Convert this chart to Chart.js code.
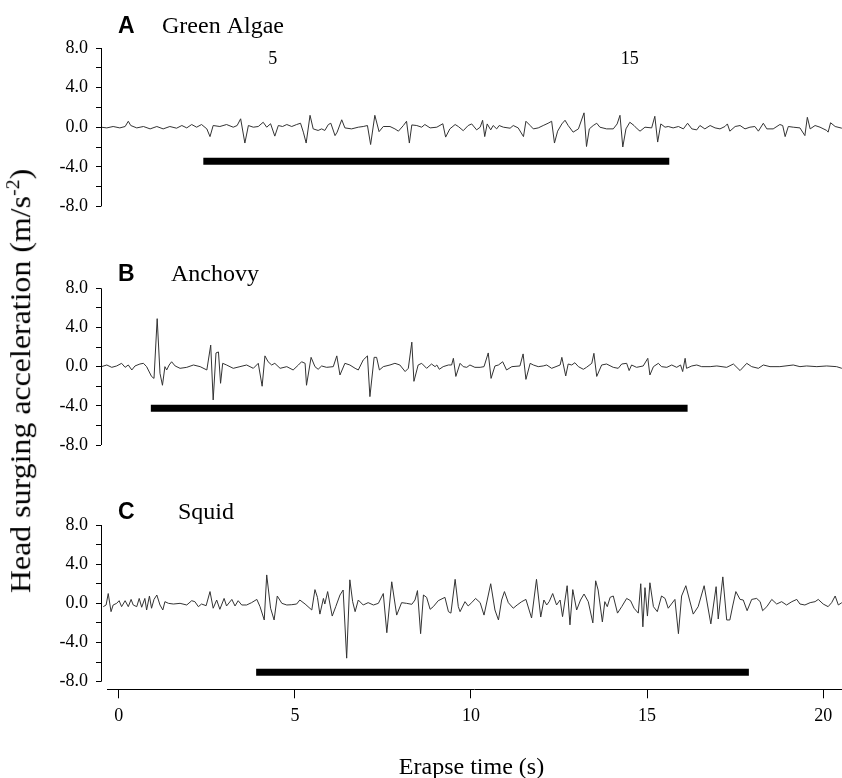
<!DOCTYPE html>
<html>
<head>
<meta charset="utf-8">
<title>Head surging acceleration</title>
<script src="https://cdn.jsdelivr.net/npm/chart.js@4.4.1/dist/chart.umd.min.js"></script>
<style>
  html, body { margin: 0; padding: 0; background: #fff; overflow: hidden; }
  #wrap { position: relative; width: 842px; height: 778px; overflow: hidden; }
  #wrap canvas { position: absolute; left: 0; }
  #ylabel {
    position: absolute; left: 20px; top: 381px;
    font-family: "Liberation Serif", "Times New Roman", serif; font-size: 29px;
    white-space: nowrap; color: #000;
    transform: translate(-50%, -50%) rotate(-90deg) scaleX(1.1);
  }
  #ylabel sup { font-size: 18px; }
</style>
</head>
<body>
<div id="wrap">
  <canvas id="chartA" width="842" height="230" style="top:0px"></canvas>
  <canvas id="chartB" width="842" height="230" style="top:240px"></canvas>
  <canvas id="chartC" width="842" height="330" style="top:460px"></canvas>
  <div id="ylabel">Head surging acceleration (m/s<sup>-2</sup>)</div>
</div>
<script>
// time (s) and head surging acceleration (m/s-2)
const timeA = [
  -0.50, -0.34, -0.16, 0.03, 0.18, 0.27, 0.34, 0.51, 0.70, 0.89,
  1.08, 1.26, 1.45, 1.64, 1.79, 1.93, 2.07, 2.21, 2.35, 2.50,
  2.59, 2.68, 2.87, 3.06, 3.25, 3.36, 3.46, 3.58, 3.68, 3.82,
  3.96, 4.10, 4.20, 4.31, 4.43, 4.53, 4.65, 4.77, 4.91, 5.05,
  5.16, 5.24, 5.32, 5.43, 5.52, 5.66, 5.76, 5.85, 5.95, 6.02,
  6.14, 6.20, 6.33, 6.42, 6.61, 6.80, 6.94, 7.06, 7.15, 7.27,
  7.39, 7.51, 7.70, 7.84, 7.94, 8.08, 8.17, 8.25, 8.32, 8.46,
  8.60, 8.69, 8.84, 9.03, 9.20, 9.28, 9.40, 9.55, 9.64, 9.78,
  9.92, 10.02, 10.16, 10.26, 10.33, 10.39, 10.46, 10.56, 10.63, 10.73,
  10.80, 10.92, 11.11, 11.20, 11.34, 11.49, 11.56, 11.68, 11.77, 11.91,
  12.05, 12.19, 12.29, 12.37, 12.46, 12.58, 12.67, 12.76, 12.90, 13.05,
  13.21, 13.28, 13.36, 13.47, 13.57, 13.66, 13.85, 14.04, 14.15, 14.23,
  14.31, 14.40, 14.51, 14.63, 14.72, 14.80, 14.94, 15.13, 15.22, 15.30,
  15.39, 15.51, 15.60, 15.74, 15.89, 16.03, 16.15, 16.27, 16.41, 16.50,
  16.64, 16.79, 16.93, 17.07, 17.21, 17.28, 17.35, 17.50, 17.64, 17.78,
  17.92, 18.06, 18.16, 18.30, 18.40, 18.58, 18.77, 18.85, 18.92, 19.01,
  19.15, 19.34, 19.48, 19.55, 19.63, 19.77, 19.91, 20.10, 20.14, 20.21,
  20.34, 20.53
];
const accelA = [
  0, -0.07, 0.07, -0.07, 0.07, 0.6, 0.17, -0.07, 0.07, -0.17,
  0.07, -0.17, 0.07, -0.1, 0.17, -0.07, 0.27, 0, 0.27, -0.17,
  -0.95, 0.17, 0.07, 0.27, 0, 0.17, 0.85, -1.6, 0.17, 0,
  0.07, 0.5, 0, 0.35, -0.9, 0.17, 0.07, 0.27, 0.07, 0.27,
  0.4, -0.5, -1.6, 1.2, -0.17, -0.33, -0.17, -0.33, 0.27, 0.4,
  -0.85, -0.5, 0.75, -0.07, -0.17, 0, 0.07, 0.17, -1.75, 1.2,
  -0.45, 0.07, 0.07, -0.17, -0.4, 0.17, 0.6, -1.6, 0.23, 0.17,
  0, 0.27, -0.07, 0, 0.35, -1.0, -0.17, 0.27, 0.07, -0.35,
  0.17, 0.33, -0.27, 0, 0.7, -0.95, 0.33, -0.27, 0.17, -0.17,
  0.17, 0, -0.1, 0.17, -0.07, -0.95, 0.6, 0.17, -0.17, -0.07,
  0.17, 0.4, 0.6, -1.6, -0.4, 0.33, 0.7, 0.17, -0.5, -0.17,
  1.45, -1.95, -0.17, 0.17, 0.4, 0, -0.17, -0.17, 0.33, 1.2,
  -2.0, -0.17, 0.5, 0.17, -0.17, -0.4, 0, -0.07, 1.1, -1.5,
  0.33, 0, 0.07, -0.07, 0.07, -0.17, 0.4, -0.17, -0.27, 0.17,
  -0.17, 0.17, -0.07, -0.17, 0.07, 0.33, -0.4, 0.07, 0.17, -0.17,
  0, 0.07, -0.4, 0.4, -0.17, -0.17, 0.27, 0.17, -0.95, 0.07,
  0, -0.07, -0.85, 1.0, -0.17, 0.17, 0, -0.33, -0.5, 0.45,
  0.07, -0.1
];

const timeB = [
  -0.49, -0.34, -0.20, -0.06, 0.08, 0.18, 0.27, 0.37, 0.46, 0.60,
  0.70, 0.79, 0.93, 1.00, 1.09, 1.17, 1.24, 1.31, 1.36, 1.43,
  1.50, 1.60, 1.74, 1.93, 2.12, 2.31, 2.50, 2.61, 2.68, 2.76,
  2.83, 2.89, 2.95, 3.06, 3.25, 3.44, 3.63, 3.82, 3.96, 4.07,
  4.15, 4.24, 4.34, 4.43, 4.58, 4.77, 4.95, 5.10, 5.19, 5.29,
  5.33, 5.46, 5.57, 5.66, 5.76, 5.90, 6.09, 6.19, 6.28, 6.42,
  6.56, 6.71, 6.80, 6.94, 7.06, 7.13, 7.25, 7.32, 7.40, 7.51,
  7.70, 7.84, 7.98, 8.13, 8.22, 8.32, 8.38, 8.50, 8.60, 8.74,
  8.88, 8.98, 9.03, 9.10, 9.21, 9.36, 9.45, 9.50, 9.57, 9.69,
  9.78, 9.88, 9.97, 10.11, 10.26, 10.37, 10.49, 10.57, 10.68, 10.78,
  10.90, 11.01, 11.16, 11.39, 11.48, 11.56, 11.68, 11.77, 11.91, 12.05,
  12.15, 12.29, 12.53, 12.58, 12.69, 12.76, 12.86, 12.95, 13.05, 13.19,
  13.28, 13.43, 13.49, 13.57, 13.71, 13.85, 14.04, 14.18, 14.28, 14.42,
  14.49, 14.56, 14.70, 14.89, 15.02, 15.08, 15.18, 15.32, 15.41, 15.56,
  15.70, 15.84, 15.95, 16.01, 16.08, 16.12, 16.27, 16.41, 16.55, 16.79,
  16.98, 17.26, 17.45, 17.64, 17.83, 17.97, 18.16, 18.30, 18.49, 18.77,
  19.15, 19.34, 19.53, 19.82, 20.10, 20.38, 20.53
];
const accelB = [
  0, 0.17, -0.07, 0.07, 0.34, -0.07, 0.17, -0.34, 0.07, 0.27,
  0.34, 0, -1.0, -1.2, 4.9, -0.68, -1.9, 0, -0.34, 0.17,
  0.5, 0.07, -0.17, -0.07, 0.17, 0, -0.34, 2.2, -3.4, 1.4,
  1.5, -1.7, 0.34, 0.17, -0.17, 0, 0.17, -0.17, 0.34, -2.0,
  1.1, 0.5, 0.17, 0.34, -0.17, 0, -0.34, 0.17, 0.5, 0.34,
  -1.9, 0.95, 0, -0.27, 0.07, -0.07, 0, 1.1, -0.85, 0.34,
  0.17, -0.17, -0.34, 0.68, 1.1, -3.06, 0.95, 0.95, -0.34, 0,
  0.17, 0.34, 0.17, -0.5, -0.17, 2.5, -1.5, 0.17, 0.34, -0.17,
  0.27, 0, 0.17, -0.27, 0, 0.17, 0.17, 0.85, -1.0, 0.34,
  0, -0.07, 0.17, -0.07, -0.07, 0, 1.4, -1.2, 0.07, 0.17,
  0.5, -0.34, 0, 0.07, 1.3, -1.3, 0.34, 0.17, 0, 0.07,
  0.17, -0.17, 0.17, 0.95, -0.95, 0.27, 0.17, 0.4, 0, -0.27,
  -0.07, 0.34, 1.36, -1.0, 0.17, 0.27, -0.07, -0.17, 0.27, 0.34,
  -0.4, 0.17, -0.07, 0.07, 0.85, -0.85, 0, 0.34, 0, -0.07,
  0.17, -0.07, 0.17, -0.5, 0.85, -0.17, 0.07, 0.17, 0, 0,
  0.07, -0.07, 0.27, -0.4, 0.34, 0, -0.17, 0.17, 0, 0,
  0.17, 0, 0.07, 0, 0.07, 0, -0.17
];

const timeC = [
  -0.44, -0.36, -0.30, -0.22, -0.16, -0.06, 0.01, 0.08, 0.18, 0.27,
  0.35, 0.41, 0.51, 0.58, 0.65, 0.74, 0.79, 0.87, 0.93, 1.00,
  1.08, 1.17, 1.25, 1.31, 1.41, 1.55, 1.74, 1.93, 2.07, 2.16,
  2.26, 2.35, 2.48, 2.59, 2.68, 2.78, 2.87, 2.99, 3.06, 3.21,
  3.30, 3.39, 3.49, 3.63, 3.77, 3.92, 4.01, 4.13, 4.20, 4.31,
  4.41, 4.50, 4.63, 4.77, 4.91, 5.05, 5.14, 5.29, 5.48, 5.57,
  5.64, 5.71, 5.81, 5.85, 5.93, 6.00, 6.06, 6.16, 6.28, 6.37,
  6.47, 6.56, 6.64, 6.71, 6.80, 6.94, 7.08, 7.23, 7.37, 7.51,
  7.61, 7.75, 7.89, 8.03, 8.17, 8.32, 8.41, 8.48, 8.57, 8.65,
  8.74, 8.84, 8.93, 9.07, 9.26, 9.36, 9.43, 9.55, 9.64, 9.69,
  9.83, 9.92, 10.02, 10.13, 10.26, 10.37, 10.56, 10.68, 10.78, 10.87,
  10.95, 11.06, 11.20, 11.31, 11.44, 11.56, 11.72, 11.86, 11.98, 12.07,
  12.15, 12.22, 12.32, 12.43, 12.53, 12.60, 12.73, 12.81, 12.89, 13.00,
  13.11, 13.21, 13.33, 13.46, 13.54, 13.61, 13.73, 13.80, 13.87, 13.95,
  14.04, 14.16, 14.28, 14.42, 14.53, 14.63, 14.75, 14.82, 14.88, 14.94,
  15.01, 15.08, 15.18, 15.29, 15.41, 15.51, 15.60, 15.79, 15.89, 15.98,
  16.10, 16.31, 16.45, 16.62, 16.81, 16.96, 17.02, 17.15, 17.26, 17.35,
  17.43, 17.52, 17.64, 17.73, 17.84, 17.97, 18.11, 18.21, 18.28, 18.40,
  18.54, 18.68, 18.82, 18.96, 19.11, 19.25, 19.34, 19.48, 19.63, 19.77,
  19.86, 20.00, 20.14, 20.24, 20.34, 20.43, 20.53
];
const accelC = [
  -0.34, -0.17, 1.0, -0.85, -0.17, 0, 0.27, -0.34, 0.27, -0.34,
  0.4, -0.17, -0.34, 0.5, -0.4, 0.5, -0.68, 0.75, -0.5, 0.4,
  0.85, -0.17, -0.68, 0.17, 0, -0.07, 0, -0.17, 0.27, 0.17,
  -0.34, -0.07, -0.24, 1.2, -0.5, 0.34, -0.61, 0.5, -0.27, 0.4,
  -0.27, 0.27, -0.17, -0.17, 0.07, 0.4, -0.34, -1.7, 2.9, -0.5,
  -1.7, 0.75, 0, -0.17, -0.14, -0.07, 0.34, -0.07, -0.68, 1.4,
  0.61, -1.1, 0.5, -0.07, 1.2, -0.17, -1.3, -0.34, 0.85, 1.36,
  -5.6, 2.4, 0.17, -0.85, 0.34, -0.17, 0.07, -0.17, 0, 1.0,
  -3.0, 2.2, -1.2, 0.07, 0, -0.1, 0.34, 1.3, -3.1, 0.85,
  0.61, -0.61, -0.34, 0.27, 0.61, -0.85, -1.0, 2.45, -0.34, -0.85,
  0.17, -0.27, 0.07, 0.5, 0.07, -1.2, 2.0, -0.68, -1.7, 0.34,
  1.2, 0.07, -0.5, -0.17, 0.17, 0.4, -1.5, 2.45, -1.4, 0.34,
  -0.17, 0.17, 1.0, -0.17, 0.34, -1.36, 1.8, -2.2, 1.4, -0.68,
  0.34, 0.95, 0.17, -2.0, 2.3, 1.36, -1.9, 0.17, -0.34, 0.61,
  0.75, -1.0, -0.34, 0.5, 0.27, -0.5, -1.0, 2.0, -2.4, 1.6,
  -1.3, 2.1, -0.34, -0.85, 0.75, 0.5, -0.5, 0.4, -3.1, 0.75,
  1.8, -1.1, -0.34, 1.8, -2.1, 1.7, -1.6, 2.7, -1.7, -1.7,
  -0.27, 1.2, 0.4, 0.34, -0.75, 0.4, 0.5, 0.17, -0.75, -0.34,
  0.4, -0.07, 0.17, -0.17, 0.17, 0.4, -0.07, -0.17, 0.07, 0.17,
  0.4, -0.07, -0.34, 0.07, 0.75, -0.17, 0.07
];

// feeding bars (start s, end s, level)
const feedStart = [2.40, 0.91, 3.90];
const feedEnd = [15.63, 16.15, 17.89];
const feedLevel = [-3.43, -4.24, -7.04];

const panelLetters = ['A', 'B', 'C'];
const panelNames = ['Green Algae', 'Anchovy', 'Squid'];
const yTicks = [-8, -6, -4, -2, 0, 2, 4, 6, 8];
const timeTicks = [0, 5, 10, 15, 20];
// loose numbers printed above trace A
const strayLabels = ['5', '15'];
const strayTimes = [4.37, 14.51];
const strayLevel = 6.9;

const serif = '"Liberation Serif", "Times New Roman", serif';

const layouts = [
  { canvas: 'chartA', padTop: 48, padBottom: 23.6, yMin: -8, timeAxis: false, titleGap: 21, nameDx: 61, stray: true },
  { canvas: 'chartB', padTop: 48.3, padBottom: 25, yMin: -8, timeAxis: false, titleGap: 14, nameDx: 70, stray: false },
  { canvas: 'chartC', padTop: 65, padBottom: 0, yMin: -8.78, timeAxis: true, titleGap: 12, nameDx: 77, stray: false }
];

// axis lines, panel letter + name, stray numbers
const panelFrame = {
  id: 'panelFrame',
  afterDraw(chart, args, opts) {
    const { ctx, chartArea, scales } = chart;
    const ax = Math.round(chartArea.left) + 0.5;
    ctx.save();
    ctx.strokeStyle = '#000';
    ctx.lineWidth = 1;
    ctx.beginPath();
    ctx.moveTo(ax, scales.y.getPixelForValue(8));
    ctx.lineTo(ax, scales.y.getPixelForValue(-8));
    ctx.stroke();
    if (opts.timeAxis) {
      const by = Math.round(chartArea.bottom) + 0.5;
      ctx.beginPath();
      ctx.moveTo(chartArea.left + 6, by);
      ctx.lineTo(chartArea.right, by);
      ctx.stroke();
    }
    ctx.fillStyle = '#000';
    ctx.textBaseline = 'middle';
    ctx.textAlign = 'left';
    const ty = chartArea.top - opts.titleGap;
    ctx.font = 'bold 23px "Liberation Sans", Arial, sans-serif';
    ctx.fillText(opts.letter, chartArea.left + 17, ty);
    ctx.font = '24px ' + serif;
    ctx.fillText(opts.name, chartArea.left + opts.nameDx, ty);
    if (opts.stray) {
      ctx.textAlign = 'center';
      ctx.font = '18px ' + serif;
      strayLabels.forEach((s, k) => {
        ctx.fillText(s, scales.x.getPixelForValue(strayTimes[k]), scales.y.getPixelForValue(strayLevel));
      });
    }
    ctx.restore();
  }
};

function makeChart(i, times, accel) {
  const lay = layouts[i];
  const trace = times.map((t, k) => ({ x: t, y: accel[k] }));
  const feed = [{ x: feedStart[i], y: feedLevel[i] }, { x: feedEnd[i], y: feedLevel[i] }];

  const xScale = { type: 'linear', min: -0.505, max: 20.534, display: lay.timeAxis };
  if (lay.timeAxis) {
    Object.assign(xScale, {
      afterBuildTicks: s => { s.ticks = timeTicks.map(v => ({ value: v })); },
      afterFit: s => { s.height = 100.7; },
      border: { display: false },
      grid: { drawOnChartArea: false, tickLength: 9, color: '#000', lineWidth: 1 },
      ticks: { padding: 7, color: '#000', maxRotation: 0, autoSkip: false, font: { family: serif, size: 18 } },
      title: { display: true, text: 'Erapse time (s)', color: '#000', font: { family: serif, size: 24 }, padding: { top: 0, bottom: 8 } }
    });
  }

  return new Chart(document.getElementById(lay.canvas), {
    type: 'line',
    data: {
      datasets: [
        { data: trace, borderColor: '#333', borderWidth: 1, pointRadius: 0, tension: 0 },
        { data: feed, borderColor: '#000', borderWidth: 7, pointRadius: 0, borderCapStyle: 'butt' }
      ]
    },
    options: {
      responsive: false,
      animation: false,
      events: [],
      layout: { padding: { top: lay.padTop, bottom: lay.padBottom, left: 0, right: 0 } },
      plugins: {
        legend: { display: false },
        tooltip: { enabled: false },
        panelFrame: {
          letter: panelLetters[i], name: panelNames[i], titleGap: lay.titleGap,
          nameDx: lay.nameDx, timeAxis: lay.timeAxis, stray: lay.stray
        }
      },
      scales: {
        x: xScale,
        y: {
          min: lay.yMin,
          max: 8,
          afterBuildTicks: s => { s.ticks = yTicks.map(v => ({ value: v })); },
          afterFit: s => { s.width = 101; },
          border: { display: false },
          grid: { drawOnChartArea: false, tickLength: 5, color: '#000', lineWidth: 1 },
          ticks: {
            padding: 8, color: '#000', autoSkip: false,
            font: { family: serif, size: 18 },
            callback: v => (v % 4 === 0 ? v.toFixed(1) : '')
          }
        }
      }
    },
    plugins: [panelFrame]
  });
}

makeChart(0, timeA, accelA);
makeChart(1, timeB, accelB);
makeChart(2, timeC, accelC);
</script>
</body>
</html>
